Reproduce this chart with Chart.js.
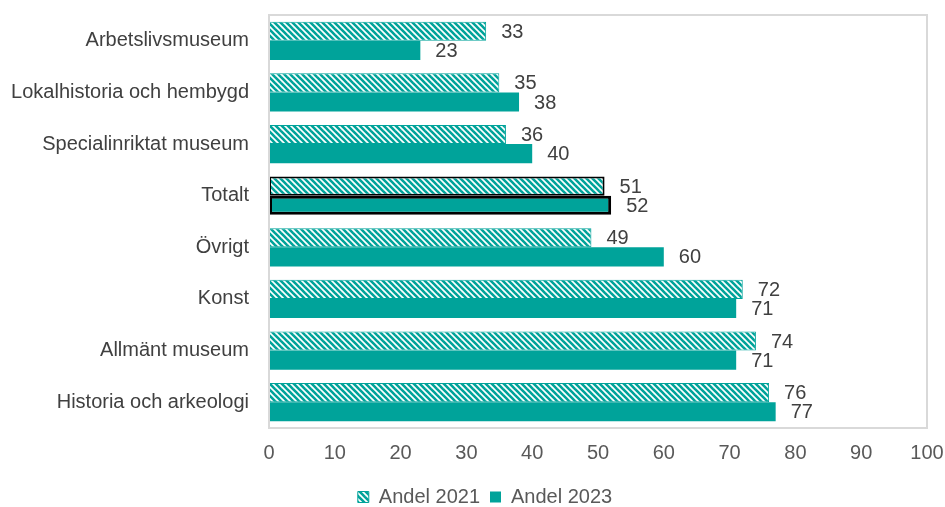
<!DOCTYPE html>
<html>
<head>
<meta charset="utf-8">
<script src="https://cdn.jsdelivr.net/npm/chart.js@4"></script>
<style>
  html, body { margin: 0; padding: 0; background: #fff; }
  #wrap { width: 945px; height: 507px; }
</style>
</head>
<body>
<div id="wrap"><canvas id="my-chart"></canvas></div>
<script>
'use strict';

const categories = [
  'Arbetslivsmuseum',
  'Lokalhistoria och hembygd',
  'Specialinriktat museum',
  'Totalt',
  'Övrigt',
  'Konst',
  'Allmänt museum',
  'Historia och arkeologi',
];
const andel2021 = [33, 35, 36, 51, 49, 72, 74, 76];
const andel2023 = [23, 38, 40, 52, 60, 71, 71, 77];
const xTicks = [0, 10, 20, 30, 40, 50, 60, 70, 80, 90, 100];

const teal = '#00a39a';
const textColor = '#404040';
const totalIndex = categories.indexOf('Totalt');

// diagonal stripes for 2021
function makeStripes() {
  const c = document.createElement('canvas');
  c.width = 6;
  c.height = 6;
  const g = c.getContext('2d');
  g.fillStyle = '#fff';
  g.fillRect(0, 0, 6, 6);
  g.strokeStyle = teal;
  g.lineWidth = 2.6;
  for (let o = -6; o <= 6; o += 6) {
    g.beginPath();
    g.moveTo(o - 1, -1);
    g.lineTo(o + 7, 7);
    g.stroke();
  }
  return g.createPattern(c, 'repeat');
}
const stripes = makeStripes();

// frame round the plot area
const framePlugin = {
  id: 'frame',
  afterDraw(chart) {
    const a = chart.chartArea;
    const ctx = chart.ctx;
    ctx.save();
    ctx.strokeStyle = '#d9d9d9';
    ctx.lineWidth = 2;
    ctx.strokeRect(a.left, a.top, a.right - a.left, a.bottom - a.top);
    ctx.restore();
  }
};

// legend is centred under the right part, not the whole canvas
const legendShift = {
  id: 'legendShift',
  beforeDraw(chart) {
    const lg = chart.legend;
    lg.left = 43;
    lg.width = lg.right - lg.left;
  }
};

// value labels right of each bar
const valueLabels = {
  id: 'valueLabels',
  afterDatasetsDraw(chart) {
    const ctx = chart.ctx;
    ctx.save();
    ctx.font = '20px "Liberation Sans", Arial, sans-serif';
    ctx.fillStyle = textColor;
    ctx.textAlign = 'left';
    ctx.textBaseline = 'middle';
    chart.data.datasets.forEach((ds, i) => {
      chart.getDatasetMeta(i).data.forEach((bar, j) => {
        ctx.fillText(ds.data[j], bar.x + 15, bar.y + 1);
      });
    });
    ctx.restore();
  }
};

const border2021 = categories.map((c, i) => i === totalIndex ? '#000' : teal);
const width2021 = categories.map((c, i) => i === totalIndex ? 2 : 1);
const border2023 = categories.map((c, i) => i === totalIndex ? '#000' : teal);
const width2023 = categories.map((c, i) => i === totalIndex ? 3 : 0);

Chart.defaults.font.family = '"Liberation Sans", Arial, sans-serif';
Chart.defaults.font.size = 20;
Chart.defaults.color = '#595959';

new Chart(document.getElementById('my-chart'), {
  type: 'bar',
  data: {
    labels: categories,
    datasets: [{
      label: 'Andel 2021',
      data: andel2021,
      backgroundColor: stripes,
      borderColor: border2021,
      borderWidth: width2021,
      borderSkipped: false,
      categoryPercentage: 0.74,
      barPercentage: 1.0,
    }, {
      label: 'Andel 2023',
      data: andel2023,
      backgroundColor: teal,
      borderColor: border2023,
      borderWidth: width2023,
      borderSkipped: false,
      categoryPercentage: 0.74,
      barPercentage: 1.0,
    }],
  },
  plugins: [framePlugin, legendShift, valueLabels],
  options: {
    indexAxis: 'y',
    responsive: true,
    maintainAspectRatio: false,
    animation: false,
    layout: { padding: { top: 15, right: 18, left: 0, bottom: -10 } },
    plugins: {
      legend: {
        position: 'bottom',
        labels: {
          color: '#595959',
          boxWidth: 11,
          boxHeight: 11,
          padding: 10,
          font: { size: 20 },
        },
      },
      tooltip: { enabled: false },
    },
    scales: {
      x: {
        min: 0,
        max: 100,
        afterBuildTicks(scale) {
          scale.ticks = xTicks.map(v => ({ value: v }));
        },
        grid: { display: false, drawTicks: false },
        border: { display: false },
        ticks: { padding: 13, color: '#595959' },
        afterFit(scale) {
          scale.height = 49;
          scale.paddingLeft = 0;
          scale.paddingRight = 0;
        },
      },
      y: {
        grid: { display: false, drawTicks: false },
        border: { display: false },
        ticks: { padding: 20, color: textColor },
        afterFit(scale) {
          scale.width = 269;
          scale.paddingTop = 0;
          scale.paddingBottom = 0;
        },
      },
    },
  },
});
</script>
</body>
</html>
